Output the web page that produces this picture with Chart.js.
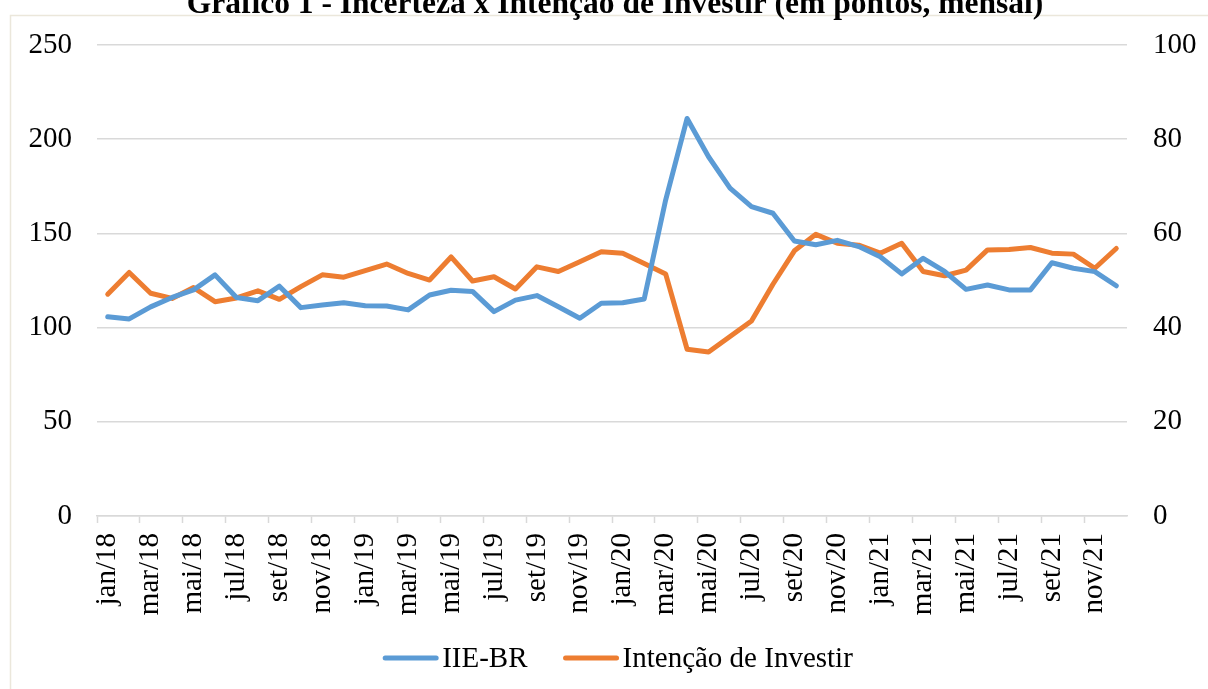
<!DOCTYPE html>
<html>
<head>
<meta charset="utf-8">
<script src="https://cdn.jsdelivr.net/npm/chart.js@4/dist/chart.umd.min.js"></script>
<style>
html,body{margin:0;padding:0;background:#fff;}
#wrap{position:relative;width:1208px;height:689px;}
</style>
</head>
<body>
<div id="wrap"><canvas id="c" width="1208" height="689"></canvas></div>
<script>
const title = "Gráfico 1 - Incerteza x Intenção de Investir (em pontos, mensal)";
const months = ["jan","fev","mar","abr","mai","jun","jul","ago","set","out","nov","dez"];
const years = ["18","19","20","21"];
const categories = [];
years.forEach(y => months.forEach(m => categories.push(m + "/" + y)));

const seriesNames = ["IIE-BR", "Intenção de Investir"];
const iieBR = [
  105.8, 104.6, 111.0, 116.0, 120.0, 128.0, 116.0, 114.3, 122.0, 110.6, 112.0, 113.2,
  111.6, 111.5, 109.4, 117.3, 119.8, 119.2, 108.5, 114.6, 117.0, 111.1, 105.0, 112.9,
  113.2, 115.2, 167.7, 211.0, 190.7, 174.0, 164.2, 160.7, 146.0, 144.0, 146.3, 143.0,
  137.6, 128.5, 136.8, 129.8, 120.3, 122.6, 120.0, 120.0, 134.4, 131.5, 129.7, 122.2
];
const intencao = [
  47.1, 51.7, 47.3, 46.2, 48.5, 45.5, 46.3, 47.8, 46.0, 48.7, 51.2, 50.7,
  52.1, 53.5, 51.5, 50.1, 55.0, 49.9, 50.8, 48.2, 52.9, 51.9, 54.0, 56.1,
  55.8, 53.6, 51.4, 35.4, 34.8, 38.1, 41.4, 49.2, 56.3, 59.8, 57.9, 57.5,
  55.8, 57.9, 51.9, 51.0, 52.2, 56.5, 56.6, 57.0, 55.8, 55.6, 52.6, 56.8
];
const leftTicks = [0, 50, 100, 150, 200, 250];
const rightTicks = [0, 20, 40, 60, 80, 100];

const FONT = "'Liberation Serif', 'Times New Roman', serif";
const BLUE = "#5B9BD5", ORANGE = "#ED7D31", GRID = "#d9d9d9";

const decor = {
  id: 'decor',
  beforeDraw(chart) {
    const ctx = chart.ctx;
    ctx.save();
    ctx.fillStyle = '#fff';
    ctx.fillRect(0, 0, chart.width, chart.height);
    ctx.strokeStyle = '#ebe7db';
    ctx.lineWidth = 1.5;
    ctx.strokeRect(10.5, 15.5, chart.width + 20, chart.height + 20);
    ctx.fillStyle = '#000';
    ctx.font = "bold 31.5px " + FONT;
    ctx.textAlign = 'center';
    ctx.textBaseline = 'alphabetic';
    ctx.fillText(title, 615, 13);
    ctx.restore();
  },
  afterDraw(chart) {
    const ctx = chart.ctx;
    ctx.save();
    ctx.font = "29px " + FONT;
    const lineLen = 55, gapTxt = 4, gapItem = 36;
    const ds = chart.data.datasets;
    const widths = ds.map(d => ctx.measureText(d.label).width);
    let total = 0;
    widths.forEach((w, i) => { total += lineLen + gapTxt + w + (i ? gapItem : 0); });
    let x = 618 - total / 2;
    const y = 658;
    ds.forEach((d, i) => {
      ctx.strokeStyle = d.borderColor;
      ctx.lineWidth = 5;
      ctx.lineCap = 'round';
      ctx.beginPath();
      ctx.moveTo(x + 2, y);
      ctx.lineTo(x + lineLen - 2, y);
      ctx.stroke();
      ctx.fillStyle = '#000';
      ctx.textAlign = 'left';
      ctx.textBaseline = 'middle';
      ctx.fillText(d.label, x + lineLen + gapTxt, y + 1);
      x += lineLen + gapTxt + widths[i] + gapItem;
    });
    ctx.restore();
  }
};

new Chart(document.getElementById('c'), {
  type: 'line',
  data: {
    labels: categories,
    datasets: [
      { label: seriesNames[0], data: iieBR, yAxisID: 'y', borderColor: BLUE, backgroundColor: BLUE,
        borderWidth: 5, pointRadius: 0, tension: 0, borderCapStyle: 'round', borderJoinStyle: 'round' },
      { label: seriesNames[1], data: intencao, yAxisID: 'y1', borderColor: ORANGE, backgroundColor: ORANGE,
        borderWidth: 5, pointRadius: 0, tension: 0, borderCapStyle: 'round', borderJoinStyle: 'round' }
    ]
  },
  options: {
    responsive: false,
    animation: false,
    layout: { padding: { left: 28, right: 11, top: 45, bottom: 63 } },
    plugins: { legend: { display: false }, title: { display: false }, tooltip: { enabled: false } },
    scales: {
      x: {
        type: 'category',
        offset: true,
        grid: {
          offset: true,
          drawOnChartArea: false,
          drawTicks: true,
          tickLength: 7,
          tickWidth: 1.5,
          tickColor: (c) => (c.index % 2 === 0 ? GRID : 'rgba(0,0,0,0)')
        },
        border: { display: true, color: GRID, width: 1.5 },
        ticks: {
          autoSkip: false,
          minRotation: 90,
          maxRotation: 90,
          padding: 10,
          color: '#000',
          font: { family: FONT, size: 29 },
          callback: function(v, i) { return i % 2 === 0 ? this.getLabelForValue(v) : ''; }
        },
        afterFit(s) { s.height = 110; }
      },
      y: {
        position: 'left',
        min: 0, max: 250,
        afterBuildTicks(s) { s.ticks = leftTicks.map(v => ({ value: v })); },
        grid: { color: GRID, lineWidth: 1.5, drawTicks: false },
        border: { display: false },
        ticks: { padding: 25, color: '#000', font: { family: FONT, size: 29 } },
        afterFit(s) { s.width = 69; }
      },
      y1: {
        position: 'right',
        min: 0, max: 100,
        afterBuildTicks(s) { s.ticks = rightTicks.map(v => ({ value: v })); },
        grid: { display: false, drawTicks: false },
        border: { display: false },
        ticks: { padding: 26, color: '#000', font: { family: FONT, size: 29 } },
        afterFit(s) { s.width = 70; }
      }
    }
  },
  plugins: [decor]
});
</script>
</body>
</html>
